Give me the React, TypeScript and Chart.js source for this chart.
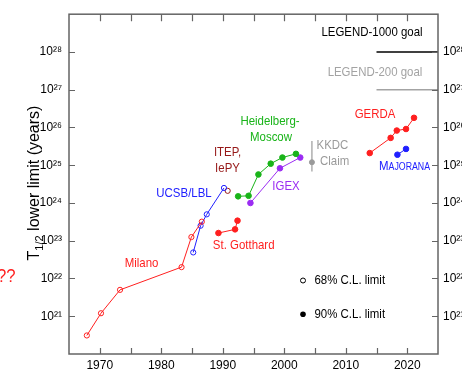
import React, { useEffect, useRef } from "react";
import { Chart, registerables } from "chart.js";

Chart.register(...registerables);

// ---- data (year of publication, T1/2 lower limit in years) ----
const milanoYears = [1967.9, 1970.2, 1973.3, 1983.3, 1984.9, 1986.6];
const milanoLimits = [3.1e20, 1.2e21, 5e21, 2e22, 1.25e23, 3.2e23];
const ucsbYears = [1985.2, 1986.4, 1987.4, 1990.2];
const ucsbLimits = [4.9e22, 2.5e23, 5e23, 2.5e24];
const itepYears = [1990.8];
const itepLimits = [2.1e24];
const gotthardYears = [1989.3, 1992.0, 1992.4];
const gotthardLimits = [1.6e23, 2e23, 3.4e23];
const hdmYears = [1992.5, 1994.2, 1995.8, 1997.8, 1999.7, 2001.9];
const hdmLimits = [1.5e24, 1.55e24, 5.7e24, 1.1e25, 1.6e25, 2e25];
const igexYears = [1994.5, 1999.3, 2002.6];
const igexLimits = [1e24, 8.3e24, 1.6e25];
const kkdcYears = [2004.5];
const kkdcValues = [1.2e25];
const kkdcLow = [6.8e24];
const kkdcHigh = [4.4e25];
const gerdaYears = [2013.9, 2017.3, 2018.3, 2019.8, 2021.1];
const gerdaLimits = [2.1e25, 5.3e25, 8.3e25, 9.1e25, 1.8e26];
const majoranaYears = [2018.4, 2019.8];
const majoranaLimits = [1.9e25, 2.7e25];
const legend1000Years = [2015, 2025];
const legend1000Goal = [1e28, 1e28];
const legend200Years = [2015, 2025];
const legend200Goal = [1e27, 1e27];

const yearLabels = [1970, 1980, 1990, 2000, 2010, 2020];
const yearTickMarks = [1970, 1975, 1980, 1985, 1990, 1995, 2000, 2005, 2010, 2015, 2020];
const exponents = [21, 22, 23, 24, 25, 26, 27, 28];
const yearMin = 1965;
const yearMax = 2025;
const limitMin = 1e20;
const limitMax = 1e29;

// ---- styles ----
const RED = "#ff1f1f";
const BLUE = "#2020ff";
const MAROON = "#961818";
const GREEN = "#19b419";
const PURPLE = "#9b2cf2";
const GRAY = "#9a9a9a";
const FRAME = "#646464";
const FONT = "'Liberation Sans', Arial, Helvetica, sans-serif";
const TICK_FONT = "'Liberation Sans Narrow', 'Liberation Sans', Arial, sans-serif";

const SUP: Record<string, string> = {
  "0": "⁰", "1": "¹", "2": "²", "3": "³", "4": "⁴",
  "5": "⁵", "6": "⁶", "7": "⁷", "8": "⁸", "9": "⁹",
};
const powerLabel = (v: number) =>
  "10" + String(Math.round(Math.log10(v))).split("").map((c) => SUP[c]).join("");

const pts = (xs: number[], ys: number[]) => xs.map((x, i) => ({ x, y: ys[i] }));

function series(label: string, xs: number[], ys: number[], color: string, open: boolean, extra: any = {}) {
  return {
    label,
    data: pts(xs, ys),
    showLine: true,
    borderColor: color,
    backgroundColor: color,
    borderWidth: 1,
    pointRadius: open ? 2.6 : 2.8,
    pointBorderWidth: 1,
    pointBorderColor: color,
    pointBackgroundColor: open ? "rgba(0,0,0,0)" : color,
    tension: 0,
    ...extra,
  };
}

function txt(ctx: CanvasRenderingContext2D, s: string, x: number, y: number, color: string,
  size = 13, align: CanvasTextAlign = "center", base: CanvasTextBaseline = "middle", sx = 0.88) {
  ctx.save();
  ctx.translate(x, y);
  ctx.scale(sx, 1);
  ctx.font = `${size}px ${FONT}`;
  ctx.fillStyle = color;
  ctx.textAlign = align;
  ctx.textBaseline = base;
  ctx.fillText(s, 0, 0);
  ctx.restore();
}

const decorations = {
  id: "decorations",
  beforeDatasetsDraw(chart: any) {
    const { ctx, scales } = chart;
    const x = scales.x, y = scales.y;
    ctx.save();
    ctx.strokeStyle = GRAY;
    ctx.lineWidth = 1.2;
    kkdcYears.forEach((yr, i) => {
      const px = x.getPixelForValue(yr);
      ctx.beginPath();
      ctx.moveTo(px, y.getPixelForValue(kkdcLow[i]));
      ctx.lineTo(px, y.getPixelForValue(kkdcHigh[i]));
      ctx.stroke();
    });
    ctx.restore();
  },
  afterDraw(chart: any) {
    const { ctx, chartArea: a, scales } = chart;
    const x = scales.x, y = scales.y;
    ctx.save();
    // frame
    ctx.strokeStyle = FRAME;
    ctx.lineWidth = 1.5;
    ctx.strokeRect(a.left, a.top, a.right - a.left, a.bottom - a.top);
    // inward tick marks
    ctx.lineWidth = 1.2;
    ctx.beginPath();
    yearTickMarks.forEach((yr) => {
      const px = Math.round(x.getPixelForValue(yr)) + 0.5;
      ctx.moveTo(px, a.bottom); ctx.lineTo(px, a.bottom - 6);
      ctx.moveTo(px, a.top); ctx.lineTo(px, a.top + 7);
    });
    exponents.forEach((e) => {
      const py = Math.round(y.getPixelForValue(Math.pow(10, e))) + 0.5;
      ctx.moveTo(a.left, py); ctx.lineTo(a.left + 6, py);
      ctx.moveTo(a.right, py); ctx.lineTo(a.right - 6, py);
    });
    ctx.stroke();
    ctx.restore();

    // annotations
    txt(ctx, "LEGEND-1000 goal", 372, 32.5, "#000");
    txt(ctx, "LEGEND-200 goal", 375, 72, "#a3a3a3");
    txt(ctx, "GERDA", 375, 114.5, RED);
    txt(ctx, "KKDC", 316.5, 145.5, GRAY, 13, "left");
    txt(ctx, "Claim", 320, 161.5, GRAY, 13, "left");
    // MAJORANA in small caps
    ctx.save();
    ctx.font = `13px ${FONT}`;
    const wM = ctx.measureText("M").width * 0.88;
    ctx.restore();
    txt(ctx, "M", 379, 169.5, BLUE, 13, "left", "alphabetic");
    txt(ctx, "AJORANA", 379 + wM, 169.5, BLUE, 10, "left", "alphabetic");
    txt(ctx, "Heidelberg-", 270, 121.5, GREEN);
    txt(ctx, "Moscow", 271, 137.5, GREEN);
    txt(ctx, "ITEP,", 227.5, 152.5, MAROON);
    txt(ctx, "IePY", 227.5, 168.3, MAROON);
    txt(ctx, "IGEX", 286, 186.5, PURPLE);
    txt(ctx, "UCSB/LBL", 184, 193.3, BLUE);
    txt(ctx, "St. Gotthard", 243.7, 245, RED);
    txt(ctx, "Milano", 141.5, 263.3, RED);
    txt(ctx, "??", 15.5, 277, RED, 19, "right");

    // key
    ctx.save();
    ctx.strokeStyle = "#000";
    ctx.fillStyle = "#000";
    ctx.lineWidth = 1;
    ctx.beginPath(); ctx.arc(303, 280.5, 2.5, 0, Math.PI * 2); ctx.stroke();
    ctx.beginPath(); ctx.arc(303, 314.3, 2.8, 0, Math.PI * 2); ctx.fill();
    ctx.restore();
    txt(ctx, "68% C.L. limit", 314.5, 280.5, "#000", 13, "left");
    txt(ctx, "90% C.L. limit", 314.5, 314.3, "#000", 13, "left");

    // y axis title: T_{1/2} lower limit (years)
    ctx.save();
    ctx.translate(33, 183);
    ctx.rotate(-Math.PI / 2);
    ctx.fillStyle = "#000";
    ctx.textBaseline = "alphabetic";
    ctx.textAlign = "left";
    ctx.font = `16px ${FONT}`;
    const wT = ctx.measureText("T").width;
    const wR = ctx.measureText(" lower limit (years)").width;
    ctx.font = `11px ${FONT}`;
    const wS = ctx.measureText("1/2").width;
    const start = -(wT + wS + wR) / 2;
    ctx.font = `16px ${FONT}`;
    ctx.fillText("T", start, 5.5);
    ctx.font = `11px ${FONT}`;
    ctx.fillText("1/2", start + wT, 9.5);
    ctx.font = `16px ${FONT}`;
    ctx.fillText(" lower limit (years)", start + wT + wS, 5.5);
    ctx.restore();
  },
};

export default function App() {
  const ref = useRef<HTMLCanvasElement | null>(null);

  useEffect(() => {
    if (!ref.current) return;
    const powerTicks = (scale: any) => {
      scale.ticks = exponents.map((e) => ({ value: Math.pow(10, e) }));
    };
    const yScaleBase = (position: string, width: number) => ({
      type: "logarithmic" as const,
      position,
      min: limitMin,
      max: limitMax,
      afterBuildTicks: powerTicks,
      afterFit: (scale: any) => { scale.width = width; },
      grid: { display: false, drawTicks: false },
      border: { display: false },
      ticks: {
        callback: (v: any) => powerLabel(Number(v)),
        font: { family: TICK_FONT, size: 12 },
        color: "#000",
        padding: position === "left" ? 7 : 5,
        autoSkip: false,
      },
    });

    const chart = new Chart(ref.current, {
      type: "scatter",
      data: {
        datasets: [
          series("LEGEND-1000 goal", legend1000Years, legend1000Goal, "#000", false, { pointRadius: 0, borderWidth: 1.5 }),
          series("LEGEND-200 goal", legend200Years, legend200Goal, "#a3a3a3", false, { pointRadius: 0, borderWidth: 1.5 }),
          series("Milano", milanoYears, milanoLimits, RED, true),
          series("UCSB/LBL", ucsbYears, ucsbLimits, BLUE, true),
          series("ITEP, IePY", itepYears, itepLimits, MAROON, true),
          series("St. Gotthard", gotthardYears, gotthardLimits, RED, false),
          series("Heidelberg-Moscow", hdmYears, hdmLimits, GREEN, false),
          series("IGEX", igexYears, igexLimits, PURPLE, false),
          series("KKDC Claim", kkdcYears, kkdcValues, GRAY, false, { showLine: false, pointRadius: 2.5 }),
          series("GERDA", gerdaYears, gerdaLimits, RED, false),
          series("MAJORANA", majoranaYears, majoranaLimits, BLUE, false),
        ],
      },
      options: {
        animation: false,
        responsive: false,
        devicePixelRatio: 1,
        layout: { padding: { top: 4, left: 0, right: 0, bottom: 0 } },
        plugins: { legend: { display: false }, tooltip: { enabled: false } },
        scales: {
          x: {
            type: "linear",
            position: "bottom",
            min: yearMin,
            max: yearMax,
            afterBuildTicks: (scale: any) => {
              scale.ticks = yearLabels.map((v) => ({ value: v }));
            },
            afterFit: (scale: any) => { scale.height = 17; },
            grid: { display: false, drawTicks: false },
            border: { display: false },
            ticks: {
              callback: (v: any) => String(v),
              font: { family: TICK_FONT, size: 12 },
              color: "#000",
              padding: 4,
              autoSkip: false,
              maxRotation: 0,
            },
          },
          y: yScaleBase("left", 69),
          y2: yScaleBase("right", 24),
        } as any,
      },
      plugins: [decorations],
    } as any);
    return () => chart.destroy();
  }, []);

  return (
    <div style={{ position: "fixed", left: 0, top: 0, width: 462, height: 371, background: "#fff" }}>
      <canvas ref={ref} width={462} height={371} style={{ display: "block" }} />
    </div>
  );
}
